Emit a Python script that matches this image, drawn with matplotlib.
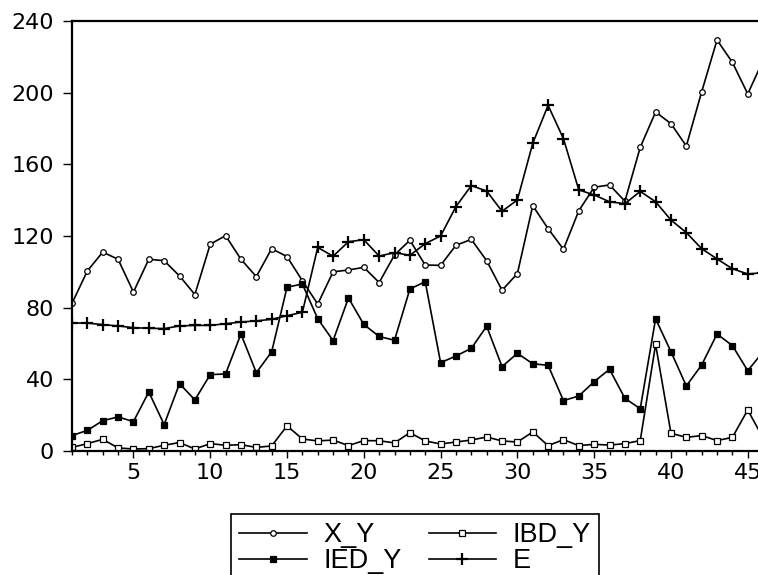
import numpy as np
import matplotlib
matplotlib.use('Agg')
import matplotlib.pyplot as plt

obs = list(range(1, 47))

xY = [82.4, 100.5, 111, 107, 88.7, 107, 106.2, 97.7, 87.3, 115.4, 120.2, 107, 97.3, 112.9, 108.5, 95,
      82, 100, 101, 102.5, 94, 109.4, 117.6, 103.8, 103.6, 114.8, 118.1, 106.2, 89.7, 99, 136.9, 124.1,
      112.6, 134.1, 147.2, 148.5, 139.4, 169.5, 189.2, 182.7, 170.2, 200.5, 229.4, 216.9, 199.3, 218]

ibdY = [2, 4.1, 6.5, 1.7, 1.1, 1.3, 3.2, 4.7, 1.1, 4.1, 3.2, 3.5, 2, 2.8, 14, 6.7,
        5.6, 6.1, 3, 5.8, 5.7, 4.5, 10.2, 5.6, 3.9, 5, 6.1, 7.8, 5.6, 5, 10.6, 3,
        6.3, 3, 3.7, 3.3, 4.1, 5.8, 59.5, 9.9, 7.6, 8.6, 5.8, 7.6, 22.9, 7.2]

iedY = [8.6, 11.5, 16.9, 19, 16.4, 32.9, 14.7, 37.6, 28.5, 42.6, 43, 65.3, 43.7, 55.3, 91.4, 93.2,
        73.8, 61.6, 85.4, 70.6, 63.9, 61.8, 90.4, 94.5, 49.3, 53, 57.3, 69.6, 47.1, 54.5, 48.7, 47.8,
        28.1, 30.7, 38.7, 45.6, 29.4, 23.6, 73.8, 55.4, 36.3, 48, 65.3, 58.8, 44.8, 55.4]

e = [71.4, 71.4, 70.5, 69.8, 68.8, 68.5, 68.3, 69.8, 70.1, 70.1, 71, 72, 72.6, 73.5, 75.5, 77.4,
     113.6, 108.7, 116.8, 117.9, 108.8, 110.7, 109.2, 115.7, 120, 136.4, 148.1, 145.1, 133.8, 140.1, 171.7, 192.9,
     174.3, 145.7, 142.9, 139.1, 138, 144.9, 139.1, 128.9, 121.9, 112.9, 107.2, 101.7, 98.8, 99.5]

seriesNames = ['X_Y', 'IED_Y', 'IBD_Y', 'E']
yTicks = [0, 40, 80, 120, 160, 200, 240]
xTicks = [5, 10, 15, 20, 25, 30, 35, 40, 45]

fig = plt.figure(figsize=(7.58, 5.75), dpi=100)
# the plot area runs past the right edge of the picture, as in the original
ax = fig.add_axes([0.095, 0.2157, 0.932, 0.7478])

lw = 1.2
l1, = ax.plot(obs, xY, color='black', lw=lw, marker='o', ms=4, mfc='white', mec='black', mew=0.9)
l2, = ax.plot(obs, iedY, color='black', lw=lw, marker='s', ms=4.2, mfc='black', mec='black', mew=0.9)
l3, = ax.plot(obs, ibdY, color='black', lw=lw, marker='s', ms=4.2, mfc='white', mec='black', mew=0.9)
l4, = ax.plot(obs, e, color='black', lw=lw, marker='+', ms=8, mec='black', mew=1.6)

ax.set_xlim(1, 47)
ax.set_ylim(0, 240)
ax.set_yticks(yTicks)
ax.set_xticks(xTicks)
ax.set_xticks(obs, minor=True)

for side in ['left', 'bottom', 'top']:
    ax.spines[side].set_linewidth(1.6)
    ax.spines[side].set_color('black')
ax.spines['right'].set_visible(False)

ax.tick_params(axis='y', which='major', direction='out', length=6.5, width=1, pad=6.5,
               labelsize=16, labelfontfamily='DejaVu Sans')
ax.tick_params(axis='x', which='major', direction='out', length=5, width=1, pad=4,
               labelsize=16, labelfontfamily='DejaVu Sans')
ax.tick_params(axis='x', which='minor', direction='out', length=3, width=1)

leg = fig.legend([l1, l2, l3, l4], seriesNames, ncol=2, loc='upper left',
                 bbox_to_anchor=(0.305, 0.106), borderaxespad=0,
                 prop={'family': 'Liberation Sans', 'size': 19.5},
                 handlelength=2.5, handletextpad=0.6, columnspacing=1.0,
                 labelspacing=0.0, borderpad=0.3, fancybox=False,
                 frameon=True, edgecolor='black', framealpha=1)
leg.get_frame().set_linewidth(1.2)

fig.savefig('out.png', dpi=100)
